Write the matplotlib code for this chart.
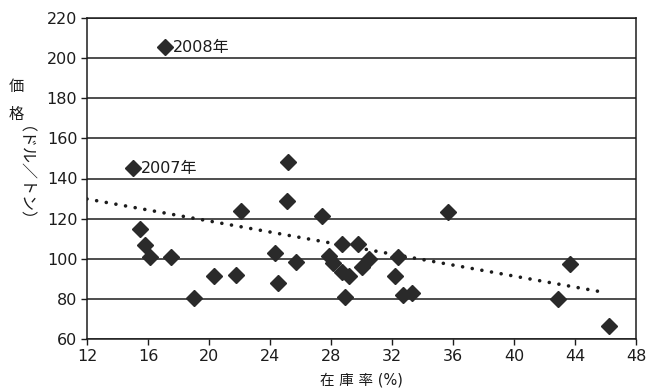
import matplotlib
matplotlib.use("Agg")
import matplotlib.pyplot as plt
import numpy as np

plt.rcParams['font.family'] = ['DejaVu Sans', 'Noto Sans CJK JP']

# data
stock_ratio = [17.1, 15.0, 15.5, 15.8, 16.1, 17.5, 19.0, 20.3, 21.8, 22.1, 24.3,
               24.5, 25.2, 25.1, 25.7, 27.4, 35.7, 28.7, 29.8, 27.9, 28.1, 28.7,
               29.2, 30.0, 30.5, 28.9, 32.4, 32.2, 32.7, 33.3, 43.7, 42.9, 46.2]
price = [205.5, 145, 115, 107, 101, 101, 80.5, 91.5, 92, 124, 103,
         88, 148, 129, 98.5, 121.5, 123.5, 107.5, 107.5, 101.5, 98, 93.5,
         91.5, 96, 100, 81, 101, 91.5, 82, 83, 97.5, 80, 66.5]
labels = {0: "2008年", 1: "2007年"}
trend_x = [12, 45.8]
trend_y = [129.8, 83.4]
xticks = [12, 16, 20, 24, 28, 32, 36, 40, 44, 48]
yticks = [60, 80, 100, 120, 140, 160, 180, 200, 220]

W, H = 646, 391
fig = plt.figure(figsize=(W / 100, H / 100), dpi=100)
ax = fig.add_axes([87 / W, 1 - 339 / H, (636 - 87) / W, (339 - 18) / H])

ink = '#1c1c1c'
ax.set_xlim(12, 48)
ax.set_ylim(60, 220)
ax.set_xticks(xticks)
ax.set_yticks(yticks)
ax.yaxis.grid(True, color=ink, lw=1.1)
ax.set_axisbelow(True)
for s in ax.spines.values():
    s.set_color(ink)
    s.set_linewidth(1.1)
ax.tick_params(direction='out', length=4, width=1, color=ink, labelsize=11.5,
               labelcolor=ink, pad=3)

# trend line
ax.plot(trend_x, trend_y, color=ink, lw=2.6, linestyle=(0, (0.01, 2.7)),
        dash_capstyle='round', zorder=2)

ax.plot(stock_ratio, price, 'D', ms=8.5, color='#2a2a2a', zorder=3, clip_on=False)

for i, t in labels.items():
    ax.annotate(t, (stock_ratio[i], price[i]), xytext=(5.5, 0), textcoords='offset points',
                va='center', ha='left', fontsize=11.5, color=ink)

ax.set_xlabel("在 庫 率 (%)", fontsize=10.5, color=ink, labelpad=6)

# vertical y label
fig.text(16 / W, 1 - 86 / H, "価", ha='center', va='center', fontsize=11, color=ink)
fig.text(16 / W, 1 - 114 / H, "格", ha='center', va='center', fontsize=11, color=ink)
fig.text(16 / W, 1 - 182 / H, "（ドル／トン）", ha='center', va='center', fontsize=11.5,
         color=ink, rotation=270)

fig.savefig("out.png", dpi=100)
